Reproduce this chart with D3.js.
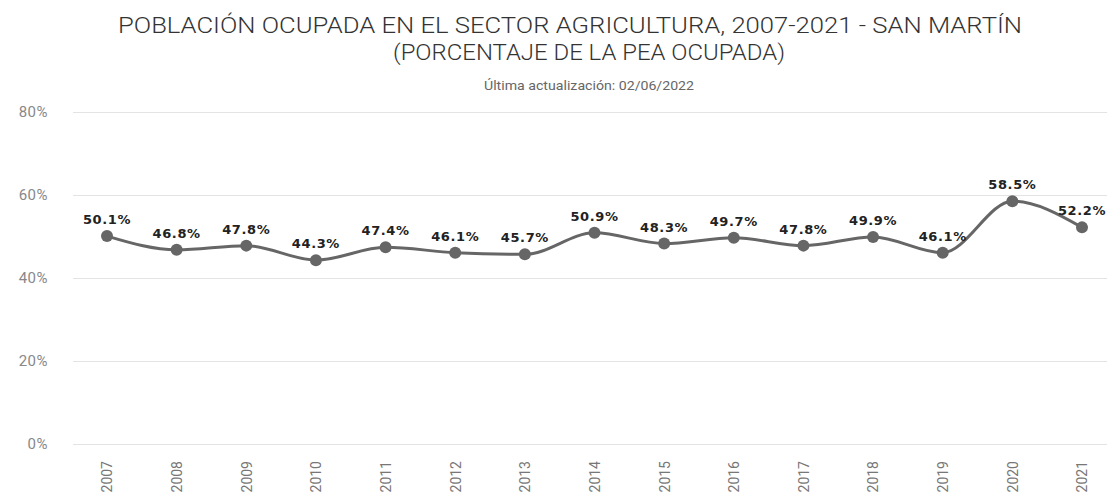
<!DOCTYPE html>
<html><head><meta charset="utf-8">
<script src="https://cdn.jsdelivr.net/npm/d3@7"></script>
<style>body{margin:0;background:#fff}svg{display:block}</style>
</head><body>
<script>
const years = ["2007","2008","2009","2010","2011","2012","2013","2014","2015","2016","2017","2018","2019","2020","2021"];
const values = [50.1,46.8,47.8,44.3,47.4,46.1,45.7,50.9,48.3,49.7,47.8,49.9,46.1,58.5,52.2];
const yTicks = [0,20,40,60,80];
const title1 = "POBLACIÓN OCUPADA EN EL SECTOR AGRICULTURA, 2007-2021 - SAN MARTÍN";
const title2 = "(PORCENTAJE DE LA PEA OCUPADA)";
const subtitle = "Última actualización: 02/06/2022";

const W=1107,H=502;
const svg=d3.select("body").append("svg").attr("width",W).attr("height",H);
const x=d3.scalePoint().domain(years).range([107,1082]);
const y=d3.scaleLinear().domain([0,80]).range([444,112]);

svg.append("text").attr("x",570).attr("y",33).attr("text-anchor","middle")
 .attr("font-family","Roboto").attr("font-weight",300).attr("font-size",22).attr("fill","#333")
 .attr("textLength",904).attr("lengthAdjust","spacingAndGlyphs").text(title1);
svg.append("text").attr("x",589).attr("y",60).attr("text-anchor","middle")
 .attr("font-family","Roboto").attr("font-weight",300).attr("font-size",22).attr("fill","#333")
 .attr("textLength",392).attr("lengthAdjust","spacingAndGlyphs").text(title2);
svg.append("text").attr("x",589).attr("y",90).attr("text-anchor","middle")
 .attr("font-family","Roboto").attr("font-size",13).attr("fill","#666")
 .attr("textLength",210).attr("lengthAdjust","spacingAndGlyphs").text(subtitle);

const ya=svg.append("g").attr("transform","translate(73,0)")
 .call(d3.axisLeft(y).tickValues(yTicks).tickSize(-1034).tickFormat(d=>d+"%"));
ya.select(".domain").remove();
ya.selectAll(".tick line").attr("stroke","#e3e3e3").attr("stroke-width",1.2);
ya.selectAll(".tick text").attr("x",-25).attr("font-family","Roboto").attr("font-size",15).attr("fill","#888").attr("letter-spacing","0.5px");

const xa=svg.append("g").attr("transform","translate(0,450)")
 .call(d3.axisBottom(x).tickSize(0));
xa.select(".domain").remove();
xa.selectAll(".tick text").attr("transform","rotate(-90)").attr("text-anchor","end")
 .attr("x",-11).attr("y",0).attr("dy","0.35em")
 .attr("font-family","Roboto").attr("font-size",14).attr("fill","#777");

const line=d3.line().x((d,i)=>x(years[i])).y(d=>y(d)).curve(d3.curveMonotoneX);
svg.append("path").datum(values).attr("d",line).attr("fill","none").attr("stroke","#666").attr("stroke-width",3);
svg.selectAll("circle.p").data(values).join("circle").attr("cx",(d,i)=>x(years[i])).attr("cy",d=>y(d)).attr("r",6).attr("fill","#666");
svg.selectAll("text.lbl").data(values).join("text").attr("class","lbl")
 .attr("x",(d,i)=>x(years[i])).attr("y",d=>y(d)-12).attr("text-anchor","middle")
 .attr("font-family","DejaVu Sans").attr("font-weight","bold").attr("font-size",13).attr("fill","#222")
 .attr("letter-spacing","0.6px").text(d=>d.toFixed(1)+"%");
</script>
</body></html>
